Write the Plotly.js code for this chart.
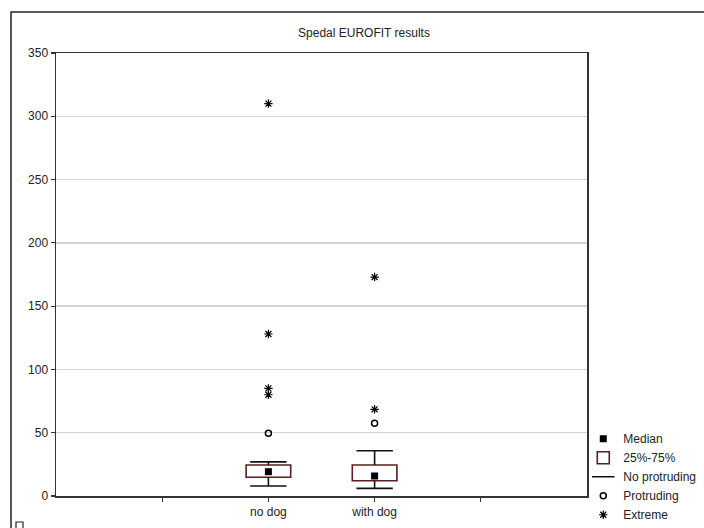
<!DOCTYPE html>
<html>
<head>
<meta charset="utf-8">
<script src="https://cdn.plot.ly/plotly-3.0.1.min.js"></script>
<style>html,body{margin:0;padding:0;background:#fff;}#chart{width:704px;height:528px;}</style>
</head>
<body>
<div id="chart"></div>
<script>
// ---- data ----
const axisCategories = [" ", "no dog", "with dog", "  "];
const groups = ["no dog", "with dog"];
const q1 = [14.8, 12.1];
const medians = [19.2, 15.8];
const q3 = [24.5, 24.5];
const lowerWhisker = [7.9, 6.0];
const upperWhisker = [27.0, 35.8];
const protrudingGroup = ["no dog", "with dog"];
const protrudingValues = [49.5, 57.5];
const extremeGroup = ["no dog", "no dog", "no dog", "no dog", "with dog", "with dog"];
const extremeValues = [80, 85, 128, 310, 68.5, 173];
const yTicks = [0, 50, 100, 150, 200, 250, 300, 350];

// ---- derived ----
const boxHeights = q3.map((v, i) => v - q1[i]);
const whiskX = [], whiskY = [], capX = [], capY = [];
groups.forEach((g, i) => {
  whiskX.push(g, g, null, g, g, null);
  whiskY.push(q3[i], upperWhisker[i], null, q1[i], lowerWhisker[i], null);
  capX.push(g, g);
  capY.push(upperWhisker[i], lowerWhisker[i]);
});

const font = "Liberation Sans, Arial, sans-serif";
const txt = "#222";

const traces = [
  {
    type: "bar", name: "25%-75%", x: groups, y: boxHeights, base: q1,
    width: 0.42, marker: {color: "#ffffff", line: {color: "#5b1f22", width: 1.6}},
    legendrank: 2, hoverinfo: "skip"
  },
  {
    type: "scatter", mode: "markers", name: "Median", x: groups, y: medians,
    marker: {symbol: "square", size: 7, color: "#000"}, legendrank: 1
  },
  {
    type: "scatter", mode: "lines", name: "whiskers", x: whiskX, y: whiskY, showlegend: false,
    line: {color: "#111", width: 1.6}, connectgaps: false
  },
  {
    type: "scatter", mode: "markers", name: "No protruding", x: capX, y: capY, legendrank: 3,
    marker: {symbol: "line-ew-open", size: 26, color: "#111", line: {color: "#111", width: 1.6}}
  },
  {
    type: "scatter", mode: "markers", name: "Protruding", x: protrudingGroup, y: protrudingValues,
    marker: {symbol: "circle-open", size: 6, color: "#000", line: {color: "#000", width: 1.5}}, legendrank: 4
  },
  {
    type: "scatter", mode: "markers", name: "Extreme", x: extremeGroup, y: extremeValues,
    marker: {symbol: "asterisk-open", size: 7, color: "#000", line: {color: "#000", width: 1.2}}, legendrank: 5
  }
];

const layout = {
  width: 704, height: 528,
  margin: {l: 56, r: 117, t: 53, b: 32, autoexpand: false},
  paper_bgcolor: "#fff", plot_bgcolor: "#fff",
  font: {family: font, size: 12, color: txt},
  title: {
    text: "Spedal EUROFIT results", font: {family: font, size: 12, color: txt},
    x: 0.58, xref: "paper", xanchor: "center", y: 1 - 33 / 528, yanchor: "middle"
  },
  showlegend: true,
  legend: {
    x: 0.993, xanchor: "left", y: 0.162, yanchor: "top",
    bgcolor: "rgba(0,0,0,0)", borderwidth: 0, itemwidth: 30, itemsizing: "trace",
    font: {family: font, size: 12, color: txt}, tracegroupgap: 0
  },
  xaxis: {
    type: "category", categoryorder: "array", categoryarray: axisCategories,
    range: [-1, 4], showgrid: false, zeroline: false,
    showline: true, linecolor: "#333", linewidth: 1.5, mirror: true,
    ticks: "outside", ticklen: 4, tickwidth: 1.2, tickcolor: "#333",
    tickfont: {family: font, size: 12, color: txt}, fixedrange: true
  },
  yaxis: {
    range: [0, 350], tickvals: yTicks, ticktext: yTicks.map(String),
    showgrid: true, gridcolor: "#d4d4d4", gridwidth: 1.5, zeroline: false,
    showline: true, linecolor: "#333", linewidth: 1.5, mirror: true,
    ticks: "outside", ticklen: 4, tickwidth: 1.2, tickcolor: "#333",
    tickfont: {family: font, size: 12, color: txt}, fixedrange: true
  },
  shapes: [
    {type: "rect", xref: "paper", yref: "paper",
     x0: (11 - 56) / 531, x1: (712 - 56) / 531, y0: (496 - 540) / 443, y1: (496 - 12) / 443,
     line: {color: "#222", width: 1.5}, fillcolor: "rgba(0,0,0,0)"},
    {type: "rect", xref: "paper", yref: "paper",
     x0: (16 - 56) / 531, x1: (23 - 56) / 531, y0: (496 - 532) / 443, y1: (496 - 522) / 443,
     line: {color: "#222", width: 1.2}, fillcolor: "rgba(0,0,0,0)"}
  ],
  bargap: 0
};

Plotly.newPlot("chart", traces, layout, {displayModeBar: false, staticPlot: true});
</script>
</body>
</html>
